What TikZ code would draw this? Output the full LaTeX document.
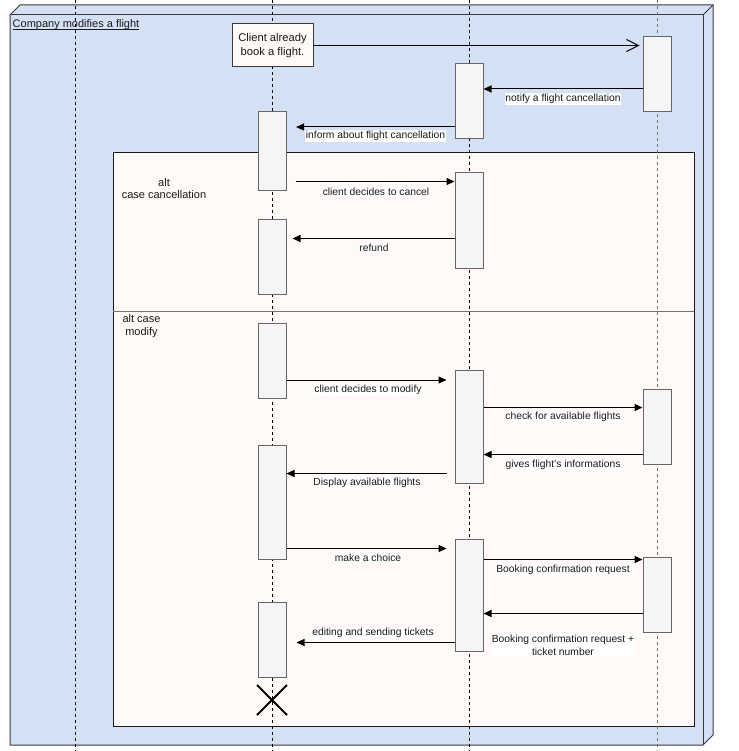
\documentclass[tikz,border=0pt]{standalone}
\usepackage{fontspec}
\setmainfont{Liberation Sans}
\usetikzlibrary{arrows.meta,calc,shapes.misc}
\definecolor{cubefill}{HTML}{D4E1F5}
\definecolor{cubeline}{HTML}{36393D}
\definecolor{altfill}{HTML}{FFFAF7}
\definecolor{actfill}{HTML}{F5F5F5}
\definecolor{actline}{HTML}{666666}
\definecolor{txt}{HTML}{1A1A1A}
\begin{document}
\begin{tikzpicture}[x=1pt,y=-1pt,
  lifeline/.style={dash pattern=on 3pt off 3pt, line width=1pt, draw=black},
  lifelinegray/.style={dash pattern=on 3pt off 3pt, line width=1pt, draw=black!55},
  actbox/.style={rectangle, draw=actline, fill=actfill, line width=1pt, minimum width=28pt, inner sep=0pt},
  msg/.style={line width=1pt, draw=black, -{Triangle[length=8pt,width=7pt]}},
  openmsg/.style={line width=1pt, draw=black, -{Straight Barb[length=12pt,width=12pt]}},
  msglabel/.style={fill=white, inner sep=0.8pt, text=txt, align=center, font=\fontsize{10.3}{13}\selectfont},
  alttext/.style={inner sep=0pt, text=txt, align=center, font=\fontsize{11}{12.8}\selectfont},
  cubeframe/.style={draw=cubeline, fill=cubefill, line width=1pt, line join=miter},
]
\useasboundingbox (0,0) rectangle (738,751);
\fill[white] (0,0) rectangle (738,751);
% frame (cube)
\filldraw[cubeframe] (10,15) -- (20,5) -- (713,5) -- (713,735) -- (703,745) -- (10,745) -- cycle;
\draw[cubeframe, fill=none] (10,15) -- (703,15) -- (703,745);
\draw[cubeframe, fill=none] (703,15) -- (713,5);
\node[anchor=west, inner sep=0pt, text=txt, font=\fontsize{11}{13}\selectfont] (title) at (12.5,25) {Company modifies a flight};
\draw[txt, line width=0.8pt] ($(title.base west)+(0,1.6)$) -- ($(title.base east)+(0,1.6)$);
% alt frame
\node[rectangle, draw=black!90, fill=altfill, line width=1pt, minimum width=581pt, minimum height=573pt, inner sep=0pt] (alt) at (403.5,439.5) {};
\coordinate (sepL) at (113,311.5);
\coordinate (sepR) at (694,311.5);
\draw[line width=1pt, draw=black!55] (sepL) -- (sepR);
\node[alttext] (altA) at (164,188.5) {alt\\case cancellation};
\node[alttext] (altB) at (141.5,326) {alt case\\modify};
% lifelines
\coordinate (l1t) at (75,0);  \coordinate (l1b) at (75,751);
\coordinate (l2t) at (272,0); \coordinate (l2b) at (272,751);
\coordinate (l3t) at (469,0); \coordinate (l3b) at (469,751);
\coordinate (l4t) at (657,0); \coordinate (l4b) at (657,751);
\draw[lifeline] (l1t) -- (l1b);
\draw[lifeline] (l2t) -- (l2b);
\draw[lifeline] (l3t) -- (l3b);
\draw[lifelinegray] (l4t) -- (l4b);
% client box
\node[rectangle, draw=cubeline, fill=altfill, line width=1pt, minimum width=81pt, minimum height=43pt, inner sep=0pt, align=center, text=txt, font=\fontsize{11.2}{14}\selectfont] (client) at (272.5,45.5) {Client already\\book a flight.};
% activation boxes
\node[actbox, minimum height=75pt] (a657a) at (657,74.5) {};
\node[actbox, minimum height=75pt] (a469a) at (469,101.5) {};
\node[actbox, minimum height=79pt] (a272a) at (272,151.5) {};
\node[actbox, minimum height=95pt] (a469b) at (469,220.5) {};
\node[actbox, minimum height=75pt] (a272b) at (272,256.5) {};
\node[actbox, minimum height=75pt] (a272c) at (272,360.5) {};
\node[actbox, minimum height=113pt] (a469c) at (469,426.5) {};
\node[actbox, minimum height=75pt] (a657b) at (657,426.5) {};
\node[actbox, minimum height=114pt] (a272d) at (272,502) {};
\node[actbox, minimum height=112pt] (a469d) at (469,595) {};
\node[actbox, minimum height=75pt] (a657c) at (657,594.5) {};
\node[actbox, minimum height=75pt] (a272e) at (272,639.5) {};
% messages
\draw[openmsg] (client.east) -- ($(a657a.west |- client.east)+(-3,0)$);
\draw[msg] (a657a.west |- 0,89) -- (a469a.east |- 0,89);
\draw[msg] (a469a.west |- 0,127) -- ($(a272a.east |- 0,127)+(9.5,0)$);
\draw[msg] ($(a272a.east |- 0,181.5)+(9,0)$) -- (a469b.west |- 0,181.5);
\draw[msg] (a469b.west |- 0,238.5) -- ($(a272b.east |- 0,238.5)+(6,0)$);
\draw[msg] (a272c.east |- 0,380) -- ($(a469c.west |- 0,380)+(-8,0)$);
\draw[msg] (a469c.east |- 0,407.5) -- (a657b.west |- 0,407.5);
\draw[msg] (a657b.west |- 0,454.5) -- (a469c.east |- 0,454.5);
\draw[msg] ($(a469c.west |- 0,473.5)+(-8,0)$) -- (a272d.east |- 0,473.5);
\draw[msg] (a272d.east |- 0,548.5) -- ($(a469d.west |- 0,548.5)+(-8,0)$);
\draw[msg] (a469d.east |- 0,559.5) -- (a657c.west |- 0,559.5);
\draw[msg] (a657c.west |- 0,613.5) -- (a469d.east |- 0,613.5);
\draw[msg] (a469d.west |- 0,642.5) -- ($(a272e.east |- 0,642.5)+(10,0)$);
% labels
\node[msglabel] (m1) at (563,99) {notify a flight cancellation};
\node[msglabel] (m2) at (375.5,136) {inform about flight cancellation};
\node[msglabel] (m3) at (376,192) {client decides to cancel};
\node[msglabel] (m4) at (374,248) {refund};
\node[msglabel] (m5) at (368,390) {client decides to modify};
\node[msglabel] (m6) at (563,417) {check for available flights};
\node[msglabel] (m7) at (563,465) {gives flight's informations};
\node[msglabel] (m8) at (367,483) {Display available flights};
\node[msglabel] (m9) at (368,558) {make a choice};
\node[msglabel] (m10) at (563,570) {Booking confirmation request};
\node[msglabel] (m11) at (563,645.5) {Booking confirmation request +\\ticket number};
\node[msglabel] (m12) at (373,633) {editing and sending tickets};
% destruction
\node[draw=black, cross out, minimum size=28pt, inner sep=0pt, line width=2pt] (destroy) at (272,700) {};
\end{tikzpicture}
\end{document}
